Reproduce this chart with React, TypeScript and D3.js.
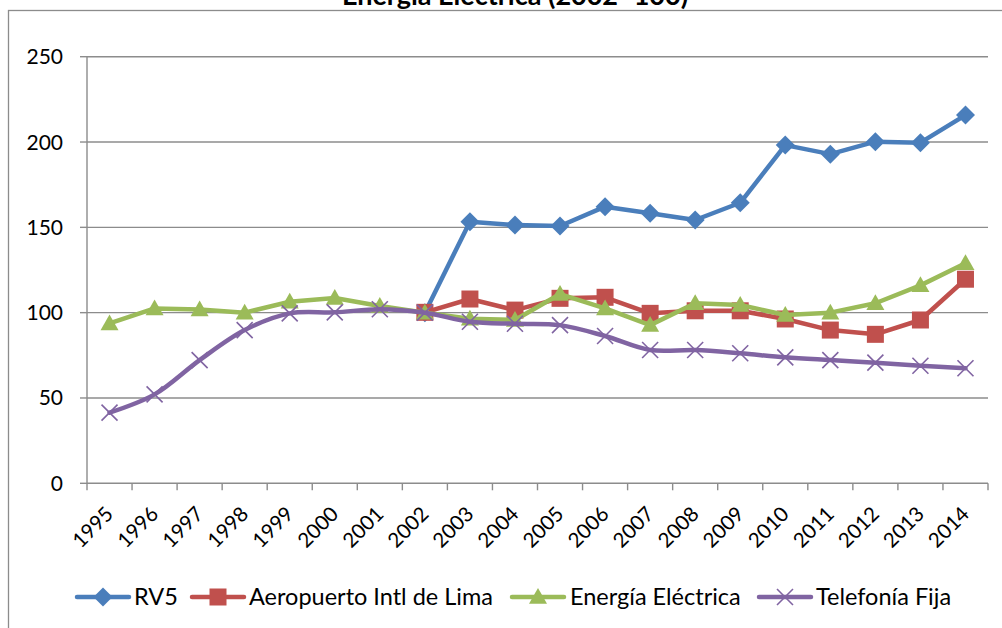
import React from "react";
import * as d3 from "d3";

const years = ["1995","1996","1997","1998","1999","2000","2001","2002","2003","2004","2005","2006","2007","2008","2009","2010","2011","2012","2013","2014"];
const rv5: (number | null)[] = [null,null,null,null,null,null,null,100,153.3,151.3,150.8,162.1,158.2,154.3,164.4,198.2,192.9,200.2,199.6,215.8];
const aeropuerto: (number | null)[] = [null,null,null,null,null,null,null,100.2,108,101.5,108.4,109,99.6,101.1,101.1,96.3,89.8,87.3,95.7,119.6];
const energia: (number | null)[] = [93.7,102.5,101.9,100,106.4,108.6,103.9,100,96.5,95.7,110.9,102.5,92.7,105.5,104.5,98.6,100,105.5,116,129];
const telefonia: (number | null)[] = [41.4,52.1,72.2,89.8,99.6,100.2,102,100,94.7,93.5,92.7,86.3,78.1,78.1,76.2,73.8,72.2,70.7,68.9,67.4];
const yTicks = [0, 50, 100, 150, 200, 250];
const seriesNames = ["RV5", "Aeropuerto Intl de Lima", "Energía Eléctrica", "Telefonía Fija"];
const title = "Energía Eléctrica (2002=100)";

const W = 1002, H = 628;
const left = 87, right = 988, top = 56.7, bottom = 483.3;
const FONT = "Lato, 'Open Sans', sans-serif";

type Marker = "diamond" | "square" | "triangle" | "x";
const series = [
  { name: seriesNames[0], values: rv5, color: "#4A7EBB", marker: "diamond" as Marker, smooth: false },
  { name: seriesNames[1], values: aeropuerto, color: "#C0504D", marker: "square" as Marker, smooth: false },
  { name: seriesNames[2], values: energia, color: "#9BBB59", marker: "triangle" as Marker, smooth: false },
  { name: seriesNames[3], values: telefonia, color: "#8064A2", marker: "x" as Marker, smooth: true },
];

function MarkerShape({ type, x, y, color }: { type: Marker; x: number; y: number; color: string }) {
  if (type === "diamond") {
    const r = 9.5;
    return <path d={`M${x},${y - r}L${x + r},${y}L${x},${y + r}L${x - r},${y}Z`} fill={color} />;
  }
  if (type === "square") {
    const r = 8.5;
    return <rect x={x - r} y={y - r} width={2 * r} height={2 * r} fill={color} />;
  }
  if (type === "triangle") {
    const r = 9;
    return <path d={`M${x},${y - r}L${x + r},${y + r * 0.75}L${x - r},${y + r * 0.75}Z`} fill={color} />;
  }
  const r = 8;
  return (
    <path d={`M${x - r},${y - r}L${x + r},${y + r}M${x - r},${y + r}L${x + r},${y - r}`} stroke={color} strokeWidth={1.6} fill="none" />
  );
}

export default function App() {
  const x = d3.scaleBand<string>().domain(years).range([left, right]);
  const y = d3.scaleLinear().domain([0, 250]).range([bottom, top]);
  const cx = (yr: string) => (x(yr) as number) + x.bandwidth() / 2;

  const legendItems = [
    { lineX: 77, textX: 134 },
    { lineX: 192, textX: 249 },
    { lineX: 512, textX: 570 },
    { lineX: 759, textX: 816 },
  ];
  const legendY = 597;

  return (
    <svg width={W} height={H} style={{ position: "absolute", left: 0, top: 0 }} fontFamily={FONT}>
      <rect x={0} y={0} width={W} height={H} fill="#fff" />
      <text x={515} y={5} textAnchor="middle" fontSize={27} fontWeight="bold" fill="#000">{title}</text>
      <rect x={8.5} y={10.5} width={1100} height={700} fill="none" stroke="#8c8c8c" strokeWidth={1.3} />
      {yTicks.map((t) => (
        <g key={t}>
          {t > 0 && <line x1={left} x2={right} y1={y(t)} y2={y(t)} stroke="#8c8c8c" strokeWidth={1.4} />}
          <line x1={left - 7} x2={left} y1={y(t)} y2={y(t)} stroke="#8c8c8c" strokeWidth={1.4} />
          <text x={63} y={y(t) + 7.5} textAnchor="end" fontSize={21} fill="#000">{t}</text>
        </g>
      ))}
      <line x1={left} x2={left} y1={top} y2={bottom} stroke="#8c8c8c" strokeWidth={1.4} />
      <line x1={left} x2={right} y1={bottom} y2={bottom} stroke="#8c8c8c" strokeWidth={1.4} />
      {years.map((yr, i) => (
        <line key={"t" + yr} x1={left + i * x.step()} x2={left + i * x.step()} y1={bottom} y2={bottom + 7} stroke="#8c8c8c" strokeWidth={1.4} />
      ))}
      <line x1={right} x2={right} y1={bottom} y2={bottom + 7} stroke="#8c8c8c" strokeWidth={1.4} />
      {years.map((yr) => (
        <text key={"l" + yr} transform={`translate(${cx(yr) + 5},${bottom + 32}) rotate(-45)`} textAnchor="end" fontSize={20.5} fill="#000">{yr}</text>
      ))}
      {series.map((s) => {
        const pts = years.map((yr, i) => ({ yr, v: s.values[i] })).filter((p) => p.v !== null) as { yr: string; v: number }[];
        const line = d3.line<{ yr: string; v: number }>()
          .x((p) => cx(p.yr))
          .y((p) => y(p.v))
          .curve(s.smooth ? d3.curveCatmullRom.alpha(0.5) : d3.curveLinear);
        return (
          <g key={s.name}>
            <path d={line(pts) || ""} fill="none" stroke={s.color} strokeWidth={4.5} strokeLinejoin="round" strokeLinecap="round" />
            {pts.map((p) => (
              <MarkerShape key={p.yr} type={s.marker} x={cx(p.yr)} y={y(p.v)} color={s.color} />
            ))}
          </g>
        );
      })}
      {series.map((s, i) => (
        <g key={"lg" + s.name}>
          <line x1={legendItems[i].lineX} x2={legendItems[i].lineX + 52} y1={legendY} y2={legendY} stroke={s.color} strokeWidth={4.5} strokeLinecap="round" />
          <MarkerShape type={s.marker} x={legendItems[i].lineX + 26} y={legendY} color={s.color} />
          <text x={legendItems[i].textX} y={legendY + 8} fontSize={23.5} fill="#000">{s.name}</text>
        </g>
      ))}
    </svg>
  );
}
